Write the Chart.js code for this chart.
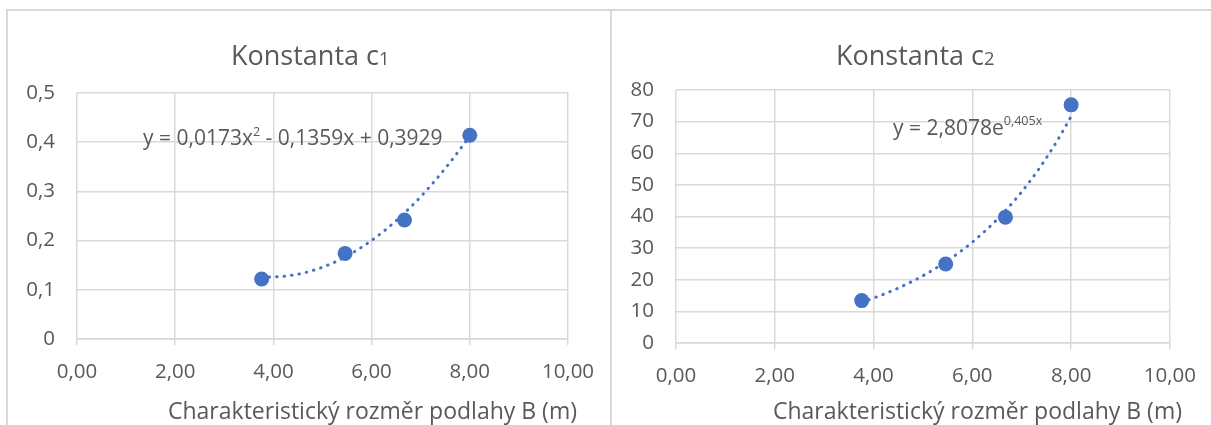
<!DOCTYPE html>
<html lang="cs">
<head>
<meta charset="utf-8">
<title>Konstanty c1 a c2</title>
<script src="https://cdn.jsdelivr.net/npm/chart.js@4.4.1/dist/chart.umd.min.js"></script>
<style>
  html, body { margin: 0; padding: 0; background: #ffffff; }
  body { width: 1211px; height: 425px; position: relative; overflow: hidden; }
  canvas { position: absolute; top: 0; }
  #c1 { left: 0; }
  #c2 { left: 611px; }
  .frame { position: absolute; left: 6px; top: 9px; width: 1300px; height: 500px;
           border-top: 2px solid #d9d9d9; border-left: 2px solid #d9d9d9; pointer-events: none; }
  .divider { position: absolute; left: 610px; top: 9px; width: 2px; height: 420px; background: #d9d9d9; }
</style>
</head>
<body>
<canvas id="c1" width="611" height="425"></canvas>
<canvas id="c2" width="600" height="425"></canvas>
<div class="frame"></div>
<div class="divider"></div>
<script>
// Characteristic floor dimension B (m) and the two constants measured for it
const xValues = [3.76, 5.46, 6.67, 8.00];
const c1Values = [0.122, 0.174, 0.242, 0.414];
const c2Values = [13.4, 25.0, 39.8, 75.3];

// Trendline coefficients as shown in the equation labels
const c1Fit = [0.0173, -0.1359, 0.3929];   // y = a·x² + b·x + c
const c2Fit = [2.8078, 0.405];             // y = a·e^(b·x)

// Tick labels
const xTickLabels = ['0,00', '2,00', '4,00', '6,00', '8,00', '10,00'];
const c1TickLabels = ['0', '0,1', '0,2', '0,3', '0,4', '0,5'];
const c2TickLabels = ['0', '10', '20', '30', '40', '50', '60', '70', '80'];

const axisTitle = 'Charakteristický rozměr podlahy B (m)';

const FONT = '"Open Sans", "Noto Sans", sans-serif';
const TEXT = '#595959';
const GRID = '#d9d9d9';
const BLUE = '#4472c4';

function trendPoints(fn) {
  const x0 = xValues[0], x1 = xValues[xValues.length - 1];
  const n = 80, pts = [];
  for (let i = 0; i <= n; i++) {
    const x = x0 + (x1 - x0) * i / n;
    pts.push({ x, y: fn(x) });
  }
  return pts;
}

// Draws runs of text where parts may be raised/lowered and smaller
function drawRich(ctx, x, y, parts, size) {
  ctx.save();
  ctx.fillStyle = TEXT;
  ctx.textBaseline = 'alphabetic';
  ctx.textAlign = 'left';
  let cx = x;
  for (const p of parts) {
    const s = p.scale ? size * p.scale : size;
    ctx.font = s + 'px ' + FONT;
    ctx.fillText(p.t, cx, y + (p.dy || 0));
    cx += ctx.measureText(p.t).width;
  }
  ctx.restore();
}

const labelsPlugin = {
  id: 'labels',
  afterDraw(chart, args, opts) {
    const ctx = chart.ctx;
    drawRich(ctx, opts.titleX, opts.titleY, opts.title, opts.titleSize);
    drawRich(ctx, opts.eqX, opts.eqY, opts.eq, opts.eqSize);
    drawRich(ctx, opts.axisX, opts.axisY, [{ t: axisTitle }], opts.axisSize);
  }
};

function makeChart(id, values, trend, yMax, yStep, yLabels, area, labelOpts) {
  const canvas = document.getElementById(id);
  return new Chart(canvas, {
    type: 'scatter',
    data: {
      datasets: [
        {
          data: xValues.map((x, i) => ({ x, y: values[i] })),
          backgroundColor: BLUE,
          borderColor: BLUE,
          borderWidth: 0,
          pointRadius: 7.5,
          pointHoverRadius: 7.5
        },
        {
          data: trend,
          showLine: true,
          pointRadius: 0,
          borderColor: BLUE,
          borderWidth: 3,
          borderDash: [0.5, 7],
          borderCapStyle: 'round',
          tension: 0
        }
      ]
    },
    options: {
      responsive: false,
      animation: false,
      events: [],
      layout: {
        padding: { left: 0, top: area.top, right: canvas.width - area.right, bottom: 0 }
      },
      plugins: {
        legend: { display: false },
        title: { display: false },
        tooltip: { enabled: false },
        labels: labelOpts
      },
      scales: {
        x: {
          type: 'linear',
          min: 0, max: 10,
          ticks: {
            stepSize: 2,
            color: TEXT,
            font: { family: FONT, size: 20.5 },
            padding: 15,
            maxRotation: 0,
            callback: (v, i) => xTickLabels[i]
          },
          grid: { color: GRID, lineWidth: 1.5, drawTicks: true, tickLength: 6, tickColor: GRID },
          border: { display: true, color: GRID, width: 1.5 },
          afterFit(scale) { scale.height = canvas.height - area.bottom; }
        },
        y: {
          type: 'linear',
          min: 0, max: yMax,
          ticks: {
            stepSize: yStep,
            color: TEXT,
            font: { family: FONT, size: 20.5 },
            padding: 22,
            callback: (v, i) => yLabels[i]
          },
          grid: { color: GRID, lineWidth: 1.5, drawTicks: false },
          border: { display: false },
          afterFit(scale) { scale.width = area.left; }
        }
      }
    },
    plugins: [labelsPlugin]
  });
}

makeChart('c1', c1Values,
  trendPoints(x => c1Fit[0] * x * x + c1Fit[1] * x + c1Fit[2]),
  0.5, 0.1, c1TickLabels,
  { left: 77, right: 568, top: 93, bottom: 339 },
  {
    title: [{ t: 'Konstanta c' }, { t: '1', scale: 0.68 }],
    titleX: 231, titleY: 65, titleSize: 27,
    eq: [{ t: 'y = 0,0173x' }, { t: '2', scale: 0.6, dy: -9 }, { t: ' - 0,1359x + 0,3929' }],
    eqX: 143, eqY: 145, eqSize: 21,
    axisX: 168, axisY: 419, axisSize: 23
  });

makeChart('c2', c2Values,
  trendPoints(x => c2Fit[0] * Math.exp(c2Fit[1] * x)),
  80, 10, c2TickLabels,
  { left: 65, right: 560, top: 90, bottom: 343 },
  {
    title: [{ t: 'Konstanta c' }, { t: '2', scale: 0.68 }],
    titleX: 225, titleY: 65, titleSize: 27,
    eq: [{ t: 'y = 2,8078e' }, { t: '0,405x', scale: 0.6, dy: -10 }],
    eqX: 282, eqY: 135, eqSize: 21,
    axisX: 162, axisY: 419, axisSize: 23
  });
</script>
</body>
</html>
